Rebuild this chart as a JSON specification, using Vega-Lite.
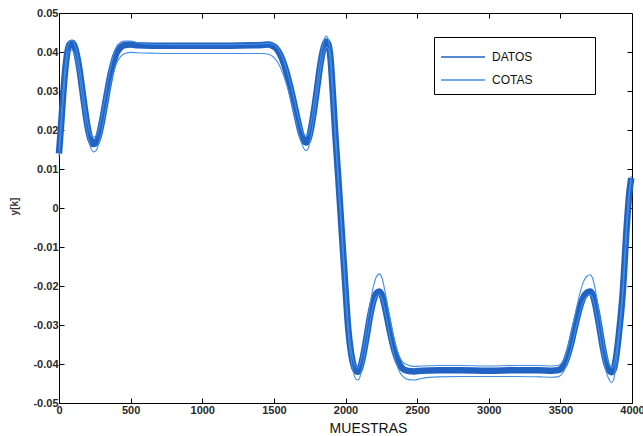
{
  "$schema": "https://vega.github.io/schema/vega-lite/v6.json",
  "width": 573,
  "height": 390,
  "autosize": {"type": "none"},
  "padding": {"left": 59, "top": 13, "right": 11, "bottom": 33},
  "background": "white",
  "config": {
    "font": "Liberation Sans",
    "view": {"stroke": "#000000", "strokeWidth": 1},
    "axis": {
      "grid": false,
      "domain": false,
      "tickColor": "#000000",
      "tickSize": -5,
      "labelFont": "Liberation Sans",
      "labelFontWeight": "bold",
      "labelFontSize": 11,
      "labelColor": "#2a2a2a"
    }
  },
  "resolve": {"axis": {"x": "independent", "y": "independent"}},
  "data": {
    "values": [
      {"x": 0, "d": 0.0140, "u": 0.0150, "l": 0.0132},
      {"x": 15, "d": 0.0215, "u": 0.0225, "l": 0.0205},
      {"x": 30, "d": 0.0295, "u": 0.0305, "l": 0.0283},
      {"x": 45, "d": 0.0360, "u": 0.0370, "l": 0.0346},
      {"x": 60, "d": 0.0402, "u": 0.0412, "l": 0.0386},
      {"x": 75, "d": 0.0420, "u": 0.0428, "l": 0.0402},
      {"x": 90, "d": 0.0424, "u": 0.0430, "l": 0.0405},
      {"x": 105, "d": 0.0418, "u": 0.0424, "l": 0.0398},
      {"x": 120, "d": 0.0400, "u": 0.0407, "l": 0.0380},
      {"x": 140, "d": 0.0362, "u": 0.0370, "l": 0.0342},
      {"x": 160, "d": 0.0310, "u": 0.0320, "l": 0.0290},
      {"x": 180, "d": 0.0255, "u": 0.0266, "l": 0.0235},
      {"x": 200, "d": 0.0207, "u": 0.0220, "l": 0.0187},
      {"x": 220, "d": 0.0176, "u": 0.0190, "l": 0.0156},
      {"x": 240, "d": 0.0164, "u": 0.0182, "l": 0.0144},
      {"x": 260, "d": 0.0168, "u": 0.0185, "l": 0.0148},
      {"x": 280, "d": 0.0188, "u": 0.0205, "l": 0.0168},
      {"x": 300, "d": 0.0222, "u": 0.0240, "l": 0.0200},
      {"x": 320, "d": 0.0263, "u": 0.0282, "l": 0.0240},
      {"x": 340, "d": 0.0305, "u": 0.0324, "l": 0.0280},
      {"x": 360, "d": 0.0343, "u": 0.0362, "l": 0.0317},
      {"x": 380, "d": 0.0373, "u": 0.0392, "l": 0.0347},
      {"x": 400, "d": 0.0396, "u": 0.0413, "l": 0.0370},
      {"x": 430, "d": 0.0412, "u": 0.0425, "l": 0.0388},
      {"x": 460, "d": 0.0418, "u": 0.0428, "l": 0.0396},
      {"x": 500, "d": 0.0419, "u": 0.0428, "l": 0.0399},
      {"x": 550, "d": 0.0417, "u": 0.0424, "l": 0.0398},
      {"x": 650, "d": 0.0416, "u": 0.0420, "l": 0.0397},
      {"x": 800, "d": 0.0416, "u": 0.0419, "l": 0.0396},
      {"x": 1000, "d": 0.0416, "u": 0.0419, "l": 0.0396},
      {"x": 1200, "d": 0.0416, "u": 0.0419, "l": 0.0396},
      {"x": 1350, "d": 0.0417, "u": 0.0420, "l": 0.0396},
      {"x": 1420, "d": 0.0418, "u": 0.0421, "l": 0.0396},
      {"x": 1460, "d": 0.0419, "u": 0.0422, "l": 0.0394},
      {"x": 1490, "d": 0.0416, "u": 0.0420, "l": 0.0389},
      {"x": 1515, "d": 0.0410, "u": 0.0415, "l": 0.0380},
      {"x": 1540, "d": 0.0396, "u": 0.0402, "l": 0.0365},
      {"x": 1565, "d": 0.0375, "u": 0.0382, "l": 0.0343},
      {"x": 1590, "d": 0.0346, "u": 0.0354, "l": 0.0315},
      {"x": 1615, "d": 0.0310, "u": 0.0320, "l": 0.0282},
      {"x": 1640, "d": 0.0270, "u": 0.0282, "l": 0.0245},
      {"x": 1665, "d": 0.0228, "u": 0.0242, "l": 0.0205},
      {"x": 1690, "d": 0.0190, "u": 0.0205, "l": 0.0170},
      {"x": 1710, "d": 0.0172, "u": 0.0188, "l": 0.0152},
      {"x": 1725, "d": 0.0168, "u": 0.0184, "l": 0.0147},
      {"x": 1740, "d": 0.0175, "u": 0.0190, "l": 0.0153},
      {"x": 1760, "d": 0.0205, "u": 0.0220, "l": 0.0185},
      {"x": 1780, "d": 0.0250, "u": 0.0265, "l": 0.0232},
      {"x": 1800, "d": 0.0303, "u": 0.0318, "l": 0.0286},
      {"x": 1820, "d": 0.0357, "u": 0.0372, "l": 0.0340},
      {"x": 1840, "d": 0.0400, "u": 0.0416, "l": 0.0385},
      {"x": 1855, "d": 0.0420, "u": 0.0436, "l": 0.0405},
      {"x": 1866, "d": 0.0427, "u": 0.0441, "l": 0.0413},
      {"x": 1880, "d": 0.0420, "u": 0.0432, "l": 0.0408},
      {"x": 1895, "d": 0.0385, "u": 0.0396, "l": 0.0373},
      {"x": 1910, "d": 0.0305, "u": 0.0315, "l": 0.0293},
      {"x": 1927, "d": 0.0200, "u": 0.0210, "l": 0.0188},
      {"x": 1950, "d": 0.0075, "u": 0.0085, "l": 0.0063},
      {"x": 1973, "d": -0.0056, "u": -0.0046, "l": -0.0068},
      {"x": 1996, "d": -0.0185, "u": -0.0175, "l": -0.0197},
      {"x": 2020, "d": -0.0313, "u": -0.0303, "l": -0.0327},
      {"x": 2040, "d": -0.0375, "u": -0.0365, "l": -0.0392},
      {"x": 2060, "d": -0.0408, "u": -0.0398, "l": -0.0428},
      {"x": 2075, "d": -0.0418, "u": -0.0408, "l": -0.0440},
      {"x": 2088, "d": -0.0420, "u": -0.0410, "l": -0.0441},
      {"x": 2100, "d": -0.0413, "u": -0.0400, "l": -0.0434},
      {"x": 2120, "d": -0.0385, "u": -0.0368, "l": -0.0405},
      {"x": 2145, "d": -0.0335, "u": -0.0312, "l": -0.0352},
      {"x": 2170, "d": -0.0280, "u": -0.0250, "l": -0.0295},
      {"x": 2195, "d": -0.0238, "u": -0.0201, "l": -0.0250},
      {"x": 2215, "d": -0.0219, "u": -0.0177, "l": -0.0228},
      {"x": 2236, "d": -0.0214, "u": -0.0169, "l": -0.0222},
      {"x": 2255, "d": -0.0225, "u": -0.0180, "l": -0.0234},
      {"x": 2280, "d": -0.0262, "u": -0.0222, "l": -0.0272},
      {"x": 2310, "d": -0.0317, "u": -0.0283, "l": -0.0330},
      {"x": 2340, "d": -0.0364, "u": -0.0337, "l": -0.0380},
      {"x": 2370, "d": -0.0396, "u": -0.0375, "l": -0.0414},
      {"x": 2400, "d": -0.0412, "u": -0.0395, "l": -0.0432},
      {"x": 2440, "d": -0.0418, "u": -0.0403, "l": -0.0440},
      {"x": 2480, "d": -0.0419, "u": -0.0406, "l": -0.0441},
      {"x": 2530, "d": -0.0417, "u": -0.0405, "l": -0.0437},
      {"x": 2650, "d": -0.0416, "u": -0.0404, "l": -0.0433},
      {"x": 2800, "d": -0.0416, "u": -0.0404, "l": -0.0432},
      {"x": 3000, "d": -0.0417, "u": -0.0405, "l": -0.0432},
      {"x": 3200, "d": -0.0416, "u": -0.0404, "l": -0.0432},
      {"x": 3350, "d": -0.0416, "u": -0.0404, "l": -0.0433},
      {"x": 3440, "d": -0.0417, "u": -0.0405, "l": -0.0434},
      {"x": 3480, "d": -0.0416, "u": -0.0404, "l": -0.0433},
      {"x": 3505, "d": -0.0412, "u": -0.0399, "l": -0.0428},
      {"x": 3525, "d": -0.0403, "u": -0.0388, "l": -0.0418},
      {"x": 3550, "d": -0.0380, "u": -0.0360, "l": -0.0395},
      {"x": 3575, "d": -0.0348, "u": -0.0322, "l": -0.0362},
      {"x": 3600, "d": -0.0308, "u": -0.0278, "l": -0.0322},
      {"x": 3630, "d": -0.0263, "u": -0.0228, "l": -0.0276},
      {"x": 3660, "d": -0.0230, "u": -0.0190, "l": -0.0241},
      {"x": 3685, "d": -0.0217, "u": -0.0175, "l": -0.0227},
      {"x": 3707, "d": -0.0214, "u": -0.0171, "l": -0.0222},
      {"x": 3725, "d": -0.0222, "u": -0.0180, "l": -0.0231},
      {"x": 3745, "d": -0.0250, "u": -0.0212, "l": -0.0262},
      {"x": 3770, "d": -0.0300, "u": -0.0268, "l": -0.0316},
      {"x": 3795, "d": -0.0355, "u": -0.0330, "l": -0.0374},
      {"x": 3820, "d": -0.0398, "u": -0.0378, "l": -0.0420},
      {"x": 3840, "d": -0.0416, "u": -0.0400, "l": -0.0440},
      {"x": 3858, "d": -0.0421, "u": -0.0410, "l": -0.0448},
      {"x": 3872, "d": -0.0414, "u": -0.0404, "l": -0.0440},
      {"x": 3890, "d": -0.0380, "u": -0.0370, "l": -0.0395},
      {"x": 3910, "d": -0.0318, "u": -0.0308, "l": -0.0330},
      {"x": 3935, "d": -0.0219, "u": -0.0209, "l": -0.0229},
      {"x": 3963, "d": -0.0048, "u": -0.0038, "l": -0.0058},
      {"x": 3981, "d": 0.0038, "u": 0.0046, "l": 0.0030},
      {"x": 3995, "d": 0.0077, "u": 0.0082, "l": 0.0072}
    ]
  },
  "layer": [
    {
      "mark": {"type": "line", "strokeWidth": 6.5, "interpolate": "monotone"},
      "encoding": {
        "x": {
          "field": "x", "type": "quantitative",
          "scale": {"domain": [0, 4000], "nice": false, "zero": false},
          "axis": {
            "orient": "bottom",
            "values": [0, 500, 1000, 1500, 2000, 2500, 3000, 3500, 4000],
            "format": "d",
            "labelFlush": false,
            "labelPadding": 6,
            "title": "MUESTRAS",
            "titleFont": "Liberation Sans",
            "titleFontWeight": "normal",
            "titleFontSize": 14,
            "titleColor": "#111111",
            "titleX": 309,
            "titleY": 25,
            "titleBaseline": "middle",
            "titleAlign": "center"
          }
        },
        "y": {
          "field": "d", "type": "quantitative",
          "scale": {"domain": [-0.05, 0.05], "nice": false, "zero": false},
          "axis": {
            "orient": "left",
            "values": [-0.05, -0.04, -0.03, -0.02, -0.01, 0, 0.01, 0.02, 0.03, 0.04, 0.05],
            "labelExpr": "datum.value == 0 ? '0' : (datum.value < 0 ? '-' + format(-datum.value, '.2f') : format(datum.value, '.2f'))",
            "labelFlush": false,
            "labelPadding": 6,
            "title": "y[k]",
            "titleFont": "Liberation Sans",
            "titleFontWeight": "bold",
            "titleFontSize": 10,
            "titleColor": "#333333",
            "titleAngle": -90,
            "titleX": -45,
            "titleY": 193,
            "titleAlign": "center",
            "titleBaseline": "middle"
          }
        },
        "color": {
          "datum": "DATOS",
          "scale": {"domain": ["DATOS", "COTAS"], "range": ["#2262c2", "#3f8fe6"]},
          "legend": {
            "title": null,
            "orient": "none",
            "legendX": 375,
            "legendY": 24,
            "direction": "vertical",
            "fillColor": "white",
            "strokeColor": "#000000",
            "padding": 8,
            "symbolType": "M-2,0H2M11,0",
            "symbolSize": 480,
            "symbolStrokeWidth": 1.5,
            "symbolOffset": 9,
            "labelFont": "Liberation Sans",
            "labelFontSize": 12,
            "labelColor": "#111111",
            "labelOffset": 17,
            "rowPadding": 5
          }
        }
      }
    },
    {
      "mark": {"type": "line", "strokeWidth": 1.1, "interpolate": "monotone"},
      "encoding": {
        "x": {"field": "x", "type": "quantitative", "axis": null},
        "y": {"field": "u", "type": "quantitative", "axis": null},
        "color": {"datum": "COTAS"}
      }
    },
    {
      "mark": {"type": "line", "strokeWidth": 1.1, "interpolate": "monotone"},
      "encoding": {
        "x": {
          "field": "x", "type": "quantitative",
          "axis": {"orient": "top", "values": [500, 1000, 1500, 2000, 2500, 3000, 3500], "labels": false, "title": null}
        },
        "y": {
          "field": "l", "type": "quantitative",
          "axis": {"orient": "right", "values": [-0.04, -0.03, -0.02, -0.01, 0, 0.01, 0.02, 0.03, 0.04], "labels": false, "title": null}
        },
        "color": {"datum": "COTAS"}
      }
    }
  ]
}
